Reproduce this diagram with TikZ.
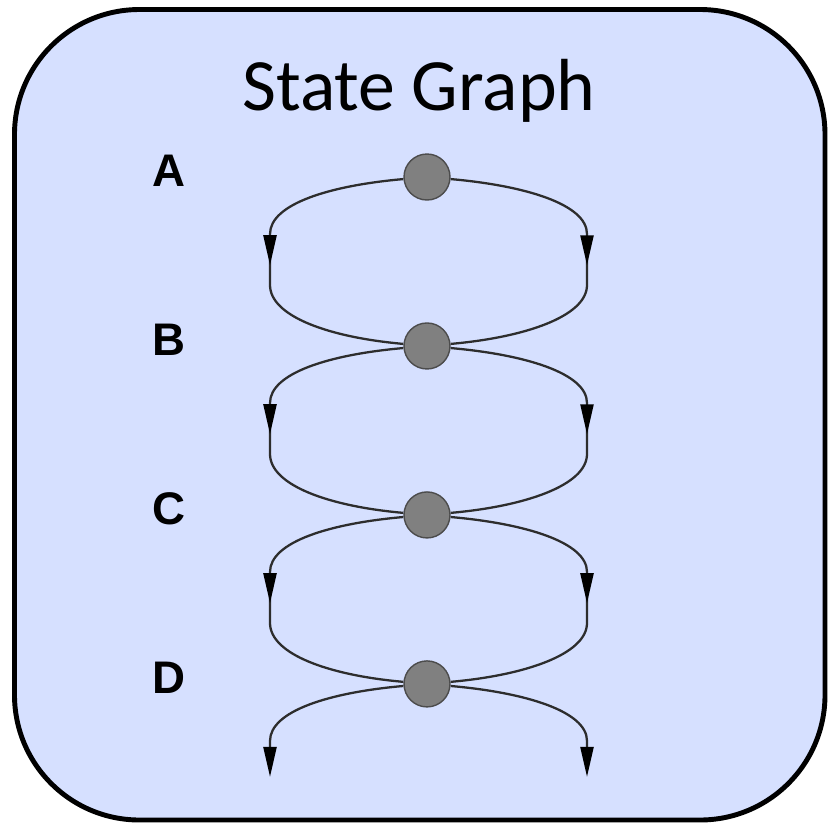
\documentclass[tikz,border=0pt]{standalone}
\usepackage{fontspec}
\usepackage{tikz}
\usetikzlibrary{arrows.meta,positioning,calc,decorations.markings}
\newfontfamily\titlefont{Carlito}
\newfontfamily\labelfont{Liberation Sans}
\definecolor{panelblue}{RGB}{214,224,255}
\definecolor{stategray}{RGB}{128,128,128}
\definecolor{edgegray}{RGB}{45,45,45}

\begin{document}
\begin{tikzpicture}[
    x=0.02cm, y=0.02cm,
    node distance=3.38cm,
    panel/.style={draw=black, line width=2.8pt, fill=panelblue, rounded corners=2.5cm},
    state/.style={circle, minimum size=0.92cm, inner sep=0pt, draw=black!70, fill=stategray, line width=0.8pt},
    rowlabel/.style={font=\labelfont\bfseries\fontsize{26}{26}\selectfont, inner sep=0pt},
    edge/.style={color=edgegray, line width=1.3pt},
    bendout/.style={out distance=1.48cm, in distance=0.6cm},
    bendin/.style={out distance=0.63cm, in distance=1.48cm},
    midarrow/.style={postaction={decorate}, decoration={markings, mark=at position 0.513 with {\arrow[black]{Triangle[length=0.6cm,width=0.26cm]}}}},
    endarrow/.style={-{Triangle[length=0.6cm,width=0.26cm,color=black]}}
]
\useasboundingbox (0,0) rectangle (828,-826);

% Panel and title
\path[panel] (14.5,-9.5) rectangle (825,-820);
\node[font=\titlefont\fontsize{42}{42}\selectfont, anchor=base] (title) at (419,-110) {State Graph};

% States
\node[state] (A) at (427,-177) {};
\node[state, below of=A] (B) {};
\node[state, below of=B] (C) {};
\node[state, below of=C] (D) {};

% Row labels
\foreach \s in {A,B,C,D}
    \node[rowlabel, left of=\s, node distance=5.16cm, yshift=0.12cm] (lab\s) {\s};

% Transitions
\foreach \s in {A,B,C,D} {
    \coordinate (\s-lt) at ($(\s)+(-157,-57)$);
    \coordinate (\s-lb) at ($(\s)+(-157,-108)$);
    \coordinate (\s-rt) at ($(\s)+(160,-57)$);
    \coordinate (\s-rb) at ($(\s)+(160,-108)$);
}
\foreach \s/\t in {A/B,B/C,C/D} {
    \draw[edge, midarrow] (\s) to[out=185, in=90, bendout] (\s-lt) -- (\s-lb) to[out=-90, in=175, bendin] (\t);
    \draw[edge, midarrow] (\s) to[out=-5, in=90, bendout] (\s-rt) -- (\s-rb) to[out=-90, in=5, bendin] (\t);
}
\coordinate (Dl) at ($(D-lt)+(0,-36)$);
\coordinate (Dr) at ($(D-rt)+(0,-36)$);
\draw[edge, endarrow] (D) to[out=185, in=90, bendout] (D-lt) -- (Dl);
\draw[edge, endarrow] (D) to[out=-5, in=90, bendout] (D-rt) -- (Dr);

\end{tikzpicture}
\end{document}
